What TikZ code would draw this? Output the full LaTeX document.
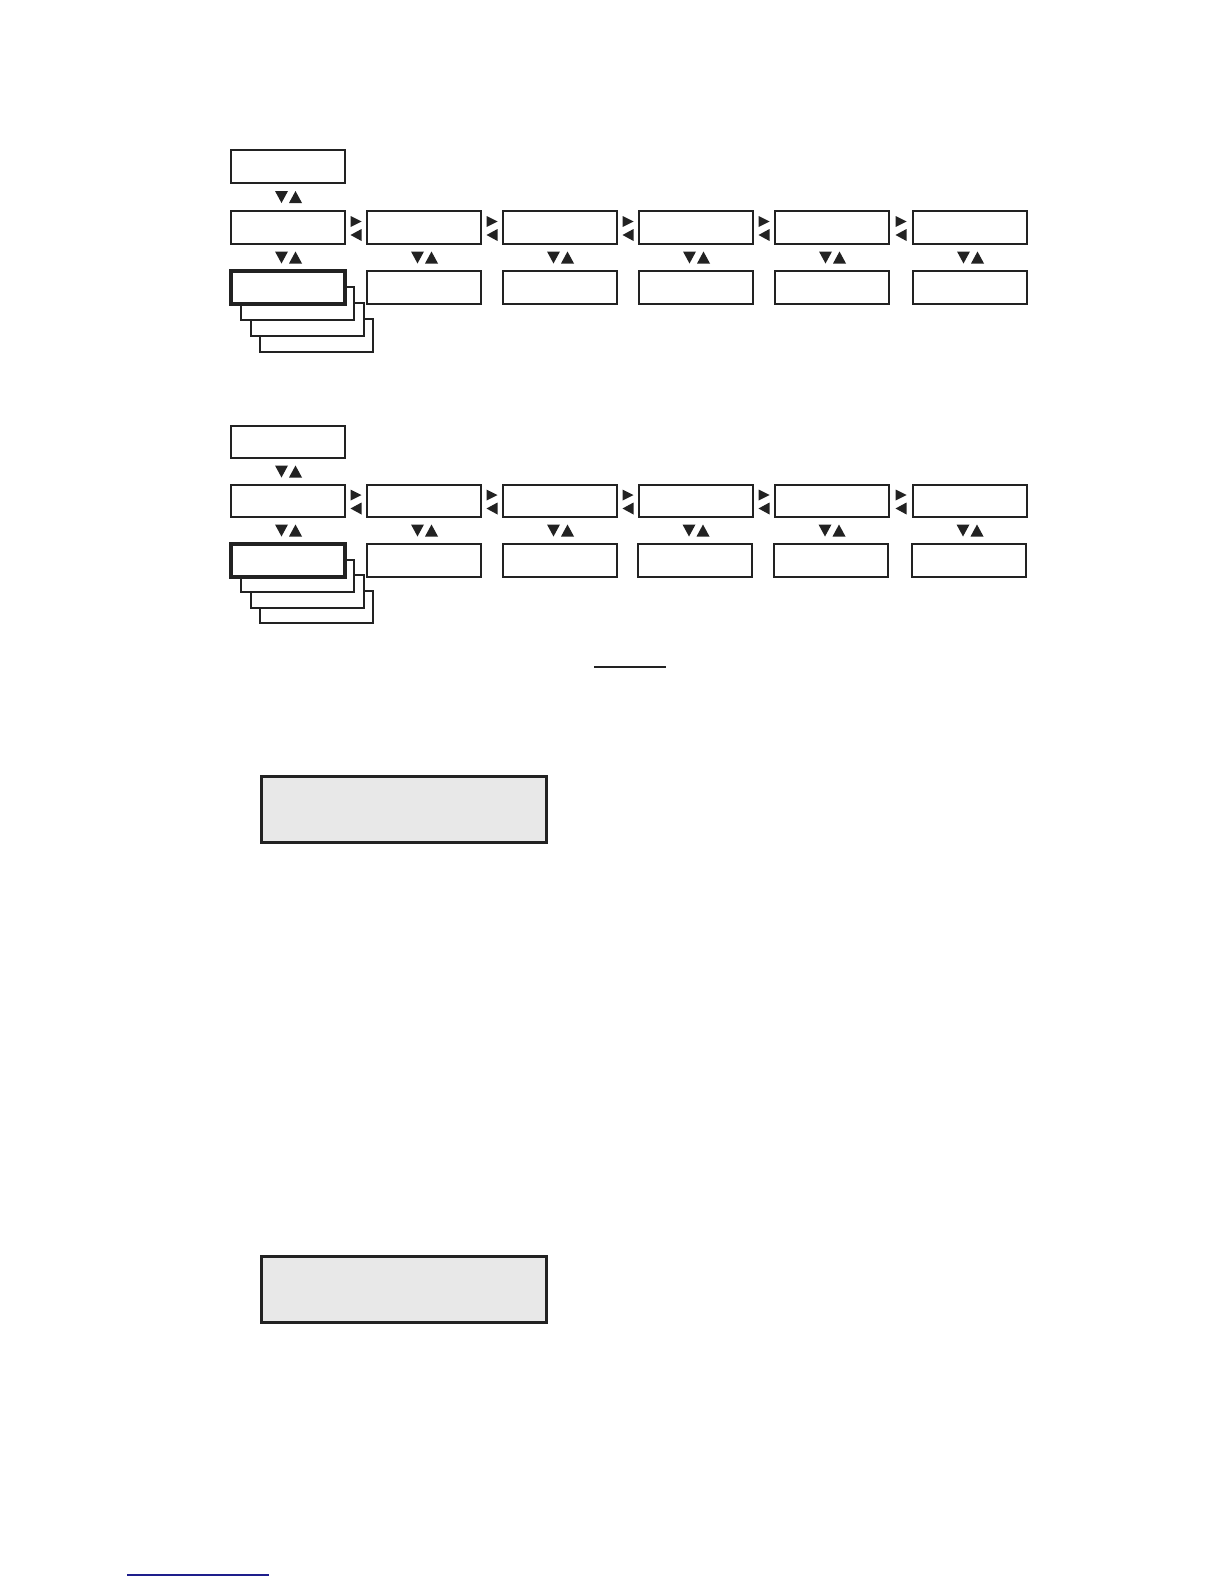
\documentclass[tikz,border=0pt]{standalone}
\usetikzlibrary{calc}
\definecolor{ink}{HTML}{222222}
\definecolor{lcd}{HTML}{E8E8E8}
\definecolor{linkblue}{RGB}{30,30,140}
\tikzset{
  menubox/.style={draw=ink, fill=white, line width=0.75pt, minimum width=57pt, minimum height=16.5pt, inner sep=0pt, outer sep=0pt, anchor=north west},
  midbox/.style={menubox, line width=1pt},
  selbox/.style={menubox, line width=1.6pt},
  stackbox/.style={menubox, minimum width=56.5pt, minimum height=16.5pt},
  lcdbox/.style={draw=ink, fill=lcd, line width=1.5pt, minimum width=142.5pt, minimum height=33pt, inner sep=0pt, outer sep=0pt, anchor=north west},
  tri/.style={fill=ink},
  updown/.pic={\fill[tri] (-13,-6)--(0,-6)--(-6.5,6)--cycle; \fill[tri] (1,6)--(14,6)--(7.5,-6)--cycle;},
  leftright/.pic={\fill[tri] (-5.5,-11.5)--(5.5,-6)--(-5.5,-0.5)--cycle; \fill[tri] (5.5,1.5)--(-5.5,7.5)--(5.5,13.5)--cycle;}
}
\begin{document}
\begin{tikzpicture}[x=0.5pt,y=-0.5pt]
\useasboundingbox (0,0) rectangle (1224,1584);
% ---------- diagram 1 ----------
\node[menubox] (atop) at (231,150) {};
\node[stackbox] (as3) at (260,319) {};
\node[stackbox] (as2) at (251,303) {};
\node[stackbox] (as1) at (241,287) {};
\foreach \i/\x in {1/231,2/367,3/503,4/639,5/775,6/913}{
  \node[midbox] (ar\i) at (\x,211) {};
}
\node[selbox] (ab1) at (231,271) {};
\foreach \i/\x in {2/367,3/503,4/639,5/775,6/913}{
  \node[menubox] (ab\i) at (\x,271) {};
}
\path ($(atop.south)!0.5!(ar1.north)$) pic {updown};
\foreach \i in {1,...,6}{
  \path ($(ar\i.south)!0.5!(ab\i.north)$) pic {updown};
}
\foreach \i/\j in {1/2,2/3,3/4,4/5,5/6}{
  \path ($(ar\i.east)!0.5!(ar\j.west)$) pic {leftright};
}
% ---------- diagram 2 ----------
\node[menubox, minimum height=16pt] (btop) at (231,426) {};
\node[stackbox, minimum height=16pt] (bs3) at (260,591) {};
\node[stackbox, minimum height=16.5pt] (bs2) at (251,575) {};
\node[stackbox, minimum height=16pt] (bs1) at (241,560) {};
\foreach \i/\x in {1/231,2/367,3/503,4/639,5/775,6/913}{
  \node[menubox, minimum height=16pt] (br\i) at (\x,485) {};
}
\node[selbox, minimum height=16.5pt] (bb1) at (231,544) {};
\foreach \i/\x in {2/367,3/503,4/638,5/774,6/912}{
  \node[menubox, minimum height=16.5pt] (bb\i) at (\x,544) {};
}
\path ($(btop.south)!0.5!(br1.north)$) pic {updown};
\foreach \i in {1,...,6}{
  \path ($(br\i.south)!0.5!(bb\i.north)$) pic {updown};
}
\foreach \i/\j in {1/2,2/3,3/4,4/5,5/6}{
  \path ($(br\i.east)!0.5!(br\j.west)$) pic {leftright};
}
% ---------- rule ----------
\coordinate (rl) at (594,667);
\coordinate (rr) at (666,667);
\draw[ink, line width=0.8pt] (rl) -- (rr);
% ---------- display boxes ----------
\node[lcdbox] (lcd1) at (261,776) {};
\node[lcdbox] (lcd2) at (261,1256) {};
% ---------- link underline ----------
\coordinate (ul) at (127,1575);
\coordinate (ur) at (269,1575);
\draw[linkblue, line width=0.8pt] (ul) -- (ur);
\end{tikzpicture}
\end{document}
